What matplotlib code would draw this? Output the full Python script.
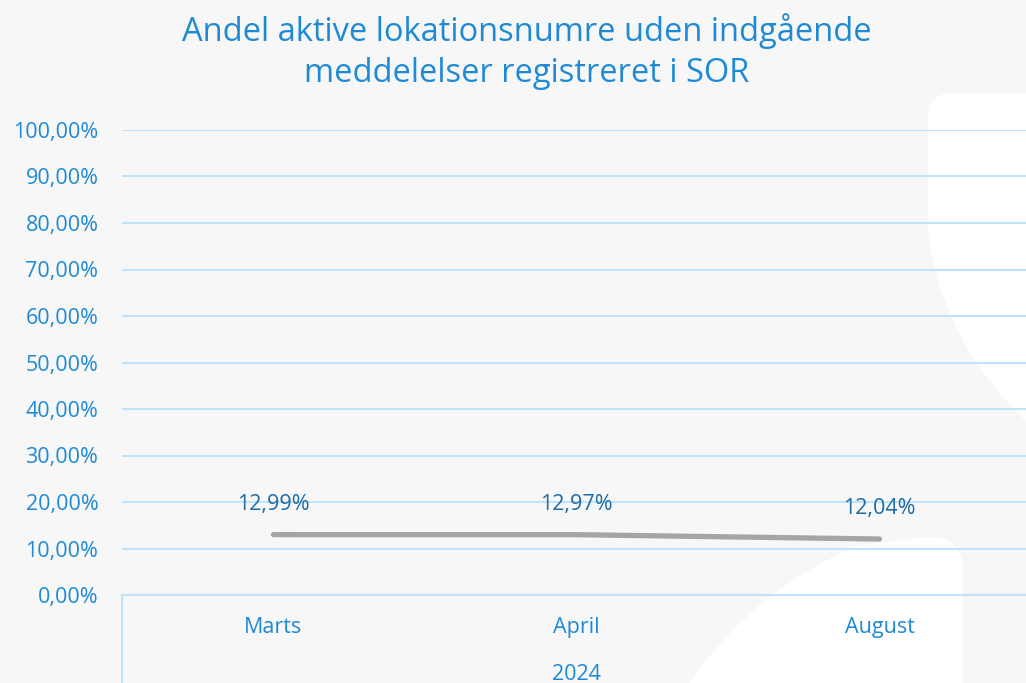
import matplotlib.pyplot as plt
from matplotlib.path import Path
from matplotlib.patches import PathPatch
from matplotlib.ticker import FuncFormatter


# Data
months = ["Marts", "April", "August"]
year_label = "2024"
share_pct = [12.99, 12.97, 12.04]
y_ticks = [0, 10, 20, 30, 40, 50, 60, 70, 80, 90, 100]

title_lines = [
    "Andel aktive lokationsnumre uden indgående",
    "meddelelser registreret i SOR",
]

# Colours
bg = "#f7f7f7"
blue = "#1e8ad6"
label_blue = "#1d6ba8"
grid_blue = "#bfe3fa"
line_grey = "#a5a5a5"

plt.rcParams["font.family"] = ["Open Sans", "DejaVu Sans"]

W, H = 1026, 683
fig = plt.figure(figsize=(W / 100, H / 100), dpi=100, facecolor=bg)


def px(x, y):
    # pixel (from top-left) -> figure fraction
    return x / W, 1 - y / H


# Decorative white shapes in the background
top_shape = [
    px(1030, 93), px(953, 93), px(953, 93), px(928, 93),
    px(928, 118), px(928, 118), px(928, 230),
    px(928, 230), px(940, 340), px(1030, 425),
    px(1030, 93),
]
top_codes = [
    Path.MOVETO, Path.LINETO, Path.LINETO, Path.CURVE3,
    Path.CURVE3, Path.LINETO, Path.LINETO,
    Path.LINETO, Path.CURVE3, Path.CURVE3,
    Path.CLOSEPOLY,
]
fig.patches.append(PathPatch(Path(top_shape, top_codes), facecolor="white",
                             edgecolor="none", transform=fig.transFigure,
                             zorder=-1))

bottom_shape = [
    px(685, 690), px(750, 590), px(860, 545), px(930, 537),
    px(963, 537), px(963, 570), px(963, 690),
    px(685, 690),
]
bottom_codes = [
    Path.MOVETO, Path.CURVE3, Path.CURVE3, Path.LINETO,
    Path.CURVE3, Path.CURVE3, Path.LINETO,
    Path.CLOSEPOLY,
]
fig.patches.append(PathPatch(Path(bottom_shape, bottom_codes), facecolor="white",
                             edgecolor="none", transform=fig.transFigure,
                             zorder=-1))

# Axes
left, bottom = px(122, 595)
right, top = px(1031, 130)
ax = fig.add_axes([left, bottom, right - left, top - bottom])
ax.set_facecolor("none")

x = list(range(len(months)))
ax.plot(x, share_pct, color=line_grey, linewidth=3.8,
        solid_capstyle="round", zorder=3)

for xi, v in zip(x, share_pct):
    ax.annotate(f"{v:.2f}%".replace(".", ","), (xi, v),
                xytext=(0, 22), textcoords="offset points",
                ha="center", va="center", color=label_blue, fontsize=15.5)

ax.set_xlim(-0.5, len(months) - 0.5)
ax.set_ylim(0, 100)
ax.set_yticks(y_ticks)
ax.yaxis.set_major_formatter(
    FuncFormatter(lambda v, p: f"{v:.2f}%".replace(".", ","))
)
ax.tick_params(axis="y", length=0, pad=17, labelcolor=blue, labelsize=15.5)
ax.set_xticks(x)
ax.set_xticklabels(months)
ax.tick_params(axis="x", length=0, pad=16, labelcolor=blue, labelsize=15.5)

ax.grid(axis="y", color=grid_blue, linewidth=1.5)
ax.set_axisbelow(True)
for side in ["top", "right", "left"]:
    ax.spines[side].set_visible(False)
ax.spines["bottom"].set_color(grid_blue)
ax.spines["bottom"].set_linewidth(1.5)

# Category group separator and year label
sep_x, sep_y0 = px(122, 595)
_, sep_y1 = px(122, 690)
fig.add_artist(plt.Line2D([sep_x, sep_x], [sep_y1, sep_y0],
                          color=grid_blue, linewidth=1.5,
                          transform=fig.transFigure))
yx, yy = px(576, 674)
fig.text(yx, yy, year_label, ha="center", va="center",
         color=blue, fontsize=15.5)

# Title
for i, line in enumerate(title_lines):
    tx, ty = px(527, 31 + i * 43)
    fig.text(tx, ty, line, ha="center", va="center", color=blue, fontsize=23.5)

fig.savefig("out.png", dpi=100, facecolor=bg)
plt.close(fig)
